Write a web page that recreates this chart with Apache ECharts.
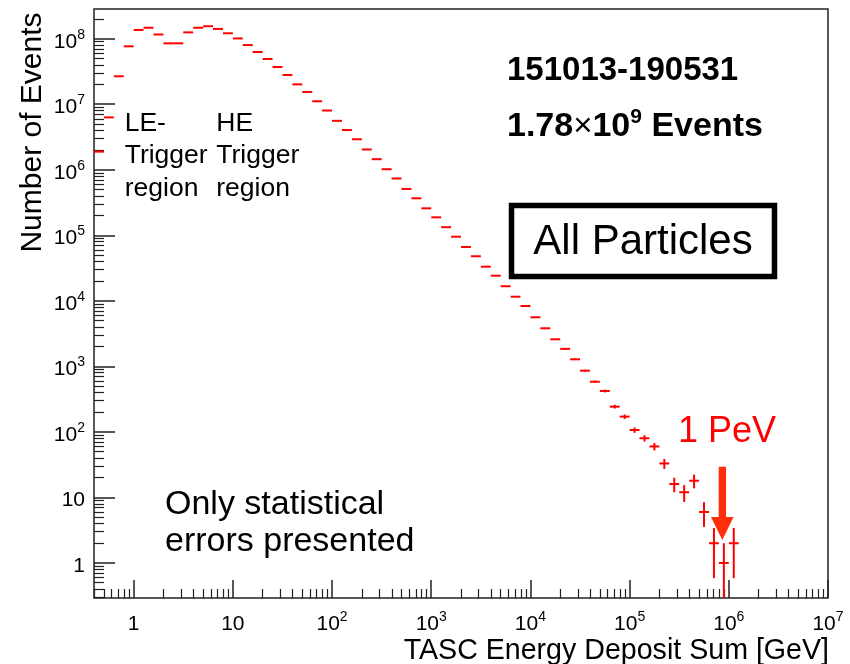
<!DOCTYPE html>
<html><head><meta charset="utf-8">
<script src="https://cdn.jsdelivr.net/npm/echarts@6/dist/echarts.min.js"></script>
<style>html,body{margin:0;padding:0;background:#fff}#c{width:850px;height:664px}</style>
</head><body><div id="c"></div>
<script>
// histogram bin edges (log10 of TASC energy deposit sum in GeV)
const binEdgesLog10 = [-0.4,-0.3,-0.2,-0.1,0.0,0.1,0.2,0.3,0.4,0.5,0.6,0.7,0.8,0.9,1.0,1.1,1.2,1.3,1.4,1.5,1.6,1.7,1.8,1.9,2.0,2.1,2.2,2.3,2.4,2.5,2.6,2.7,2.8,2.9,3.0,3.1,3.2,3.3,3.4,3.5,3.6,3.7,3.8,3.9,4.0,4.1,4.2,4.3,4.4,4.5,4.6,4.7,4.8,4.9,5.0,5.1,5.2,5.3,5.4,5.5,5.6,5.7,5.8,5.9,6.0,6.1];
// number of events per bin
const counts = [1.89e6,6.3e6,2.67e7,7.65e7,1.36e8,1.47e8,1.16e8,8.5e7,8.5e7,1.25e8,
  1.47e8,1.55e8,1.41e8,1.21e8,1.01e8,8.0e7,6.27e7,4.9e7,3.7e7,2.79e7,
  2.01e7,1.54e7,1.11e7,8.02e6,5.58e6,4.04e6,2.92e6,2.04e6,1.45e6,1.02e6,
  7.36e5,5.1e5,3.67e5,2.58e5,1.88e5,1.33e5,9.52e4,6.63e4,4.79e4,3.32e4,
  2.42e4,1.67e4,1.156e4,8340,5610,3810,2588,1850,1282,859,
  583,421,243,171,107,80,60,33,16,12,
  18,6,2,1,2];
const xMajorTicks = [1,10,100,1e3,1e4,1e5,1e6,1e7];
const xTickLabels = ['1','10','10^2','10^3','10^4','10^5','10^6','10^7'];
const yMajorTicks = [1,10,100,1e3,1e4,1e5,1e6,1e7,1e8];
const yTickLabels = ['1','10','10^2','10^3','10^4','10^5','10^6','10^7','10^8'];
const minorMultipliers = [2,3,4,5,6,7,8,9];
const xDecades = [0.1,1,10,100,1e3,1e4,1e5,1e6];
const yDecades = [0.1,1,10,100,1e3,1e4,1e5,1e6,1e7,1e8];

const X_MIN = Math.pow(10,-0.4), X_MAX = 1e7;
const Y_MIN = 0.292, Y_MAX = 2.84e8;
const FONT = '"Liberation Sans", Arial, Helvetica, sans-serif';

const xMinorTicks = [], yMinorTicks = [];
xDecades.forEach(d => minorMultipliers.forEach(m => { const v = d*m; if (v > X_MIN && v < X_MAX) xMinorTicks.push(v); }));
yDecades.forEach(d => minorMultipliers.forEach(m => { const v = d*m; if (v > Y_MIN && v < Y_MAX) yMinorTicks.push(v); }));

const histData = counts.map((c, i) => [Math.pow(10, binEdgesLog10[i]), Math.pow(10, binEdgesLog10[i+1]), c, Math.sqrt(c)]);

function labelFor(ticks, labels) {
  return function (v) {
    let idx = 0, best = Infinity;
    ticks.forEach((t, i) => { const d = Math.abs(Math.log10(v) - Math.log10(t)); if (d < best) { best = d; idx = i; } });
    const s = labels[idx];
    const p = s.split('^');
    return p.length > 1 ? '{b|' + p[0] + '}{s|' + p[1] + '}' : '{b|' + s + '}';
  };
}
const richLab = {
  b: { fontSize: 21, fontFamily: FONT, color: '#000', padding: [6,0,0,0] },
  s: { fontSize: 14, fontFamily: FONT, color: '#000', padding: [0,0,8,0] }
};
const tickColor = '#222';

const chart = echarts.init(document.getElementById('c'), null, { renderer: 'canvas' });
chart.setOption({
  animation: false,
  backgroundColor: '#fff',
  grid: { left: 94, right: 22, top: 9, bottom: 66, show: true, borderColor: '#222', borderWidth: 1.5, backgroundColor: 'transparent', outerBoundsMode: 'none' },
  xAxis: [
    { type: 'log', logBase: 10, min: X_MIN, max: X_MAX, position: 'bottom',
      axisLine: { show: false }, splitLine: { show: false },
      axisTick: { show: true, inside: true, length: 18, customValues: xMajorTicks, lineStyle: { color: tickColor, width: 1.5 } },
      axisLabel: { show: true, customValues: xMajorTicks, margin: 10, formatter: labelFor(xMajorTicks, xTickLabels), rich: richLab, showMinLabel: true, showMaxLabel: true }
    },
    { type: 'log', logBase: 10, min: X_MIN, max: X_MAX, position: 'bottom',
      axisLine: { show: false }, splitLine: { show: false }, axisLabel: { show: false },
      axisTick: { show: true, inside: true, length: 9, customValues: xMinorTicks, lineStyle: { color: tickColor, width: 1.2 } }
    }
  ],
  yAxis: [
    { type: 'log', logBase: 10, min: Y_MIN, max: Y_MAX, position: 'left',
      axisLine: { show: false }, splitLine: { show: false },
      axisTick: { show: true, inside: true, length: 21, customValues: yMajorTicks, lineStyle: { color: tickColor, width: 1.5 } },
      axisLabel: { show: true, customValues: yMajorTicks, margin: 9, formatter: labelFor(yMajorTicks, yTickLabels), rich: richLab, showMinLabel: true, showMaxLabel: true }
    },
    { type: 'log', logBase: 10, min: Y_MIN, max: Y_MAX, position: 'left',
      axisLine: { show: false }, splitLine: { show: false }, axisLabel: { show: false },
      axisTick: { show: true, inside: true, length: 10, customValues: yMinorTicks, lineStyle: { color: tickColor, width: 1.2 } }
    }
  ],
  series: [{
    type: 'custom', xAxisIndex: 0, yAxisIndex: 0, clip: true,
    encode: { x: [0, 1], y: 2 },
    data: histData,
    renderItem: function (params, api) {
      const lo = api.value(0), hi = api.value(1), y = api.value(2), err = api.value(3);
      const a = api.coord([lo, y]), b = api.coord([hi, y]);
      const xc = Math.sqrt(lo * hi);
      const top = api.coord([xc, y + err]);
      const bot = api.coord([xc, Math.max(y - err, Y_MIN)]);
      const st = { stroke: '#ff0000', lineWidth: 2 };
      return { type: 'group', children: [
        { type: 'line', shape: { x1: a[0], y1: a[1], x2: b[0], y2: b[1] }, style: st },
        { type: 'line', shape: { x1: top[0], y1: top[1], x2: top[0], y2: bot[1] }, style: st }
      ]};
    }
  }],
  graphic: [
    { type: 'text', x: 32.6, y: 132.5, rotation: Math.PI / 2,
      style: { text: 'Number of Events', fontSize: 30, fontFamily: FONT, fill: '#000', align: 'center', verticalAlign: 'middle', textAlign: 'center', textVerticalAlign: 'middle' } },
    { type: 'text', x: 829, y: 651.5,
      style: { text: 'TASC Energy Deposit Sum [GeV]', fontSize: 28.6, fontFamily: FONT, fill: '#000', align: 'right', verticalAlign: 'middle', textAlign: 'right', textVerticalAlign: 'middle' } },
    { type: 'text', x: 507, y: 70.5,
      style: { text: '151013-190531', fontSize: 33, fontWeight: 'bold', fontFamily: FONT, fill: '#000', align: 'left', verticalAlign: 'middle', textAlign: 'left', textVerticalAlign: 'middle' } },
    { type: 'text', x: 507, y: 123.5,
      style: { text: '{b|1.78}{t|×}{b|10}{s|9}{b| Events}', fontFamily: FONT, fill: '#000', align: 'left', verticalAlign: 'middle', textAlign: 'left', textVerticalAlign: 'middle',
        rich: { b: { fontSize: 34, fontWeight: 'bold', fontFamily: FONT, fill: '#000', padding: [6,0,0,0] },
                t: { fontSize: 33, fontFamily: FONT, fill: '#000', padding: [6,0,0,0] },
                s: { fontSize: 21, fontWeight: 'bold', fontFamily: FONT, fill: '#000', padding: [0,0,12,0] } } } },
    { type: 'rect', shape: { x: 511.5, y: 205.5, width: 263, height: 71 }, style: { fill: 'none', stroke: '#000', lineWidth: 5.5 } },
    { type: 'text', x: 643, y: 242.3,
      style: { text: 'All Particles', fontSize: 42, fontFamily: FONT, fill: '#000', align: 'center', verticalAlign: 'middle', textAlign: 'center', textVerticalAlign: 'middle' } },
    { type: 'text', x: 124.7, y: 123.2, style: { text: 'LE-', fontSize: 26.5, fontFamily: FONT, fill: '#000', align: 'left', verticalAlign: 'middle', textAlign: 'left', textVerticalAlign: 'middle' } },
    { type: 'text', x: 124.7, y: 155.7, style: { text: 'Trigger', fontSize: 26.5, fontFamily: FONT, fill: '#000', align: 'left', verticalAlign: 'middle', textAlign: 'left', textVerticalAlign: 'middle' } },
    { type: 'text', x: 124.7, y: 188.4, style: { text: 'region', fontSize: 26.5, fontFamily: FONT, fill: '#000', align: 'left', verticalAlign: 'middle', textAlign: 'left', textVerticalAlign: 'middle' } },
    { type: 'text', x: 216.3, y: 123.2, style: { text: 'HE', fontSize: 26.5, fontFamily: FONT, fill: '#000', align: 'left', verticalAlign: 'middle', textAlign: 'left', textVerticalAlign: 'middle' } },
    { type: 'text', x: 216.3, y: 155.7, style: { text: 'Trigger', fontSize: 26.5, fontFamily: FONT, fill: '#000', align: 'left', verticalAlign: 'middle', textAlign: 'left', textVerticalAlign: 'middle' } },
    { type: 'text', x: 216.3, y: 188.4, style: { text: 'region', fontSize: 26.5, fontFamily: FONT, fill: '#000', align: 'left', verticalAlign: 'middle', textAlign: 'left', textVerticalAlign: 'middle' } },
    { type: 'text', x: 165, y: 504.8, style: { text: 'Only statistical', fontSize: 34, fontFamily: FONT, fill: '#000', align: 'left', verticalAlign: 'middle', textAlign: 'left', textVerticalAlign: 'middle' } },
    { type: 'text', x: 165, y: 541.3, style: { text: 'errors presented', fontSize: 34, fontFamily: FONT, fill: '#000', align: 'left', verticalAlign: 'middle', textAlign: 'left', textVerticalAlign: 'middle' } },
    { type: 'text', x: 678, y: 432.4, style: { text: '1 PeV', fontSize: 36, fontFamily: FONT, fill: '#ff0000', align: 'left', verticalAlign: 'middle', textAlign: 'left', textVerticalAlign: 'middle' } },
    { type: 'polygon', shape: { points: [[718.7,466.7],[726,466.7],[726,517],[733.5,517],[722.3,540],[711,517],[718.7,517]] }, style: { fill: '#ff2d0a' } }
  ]
});
</script></body></html>
